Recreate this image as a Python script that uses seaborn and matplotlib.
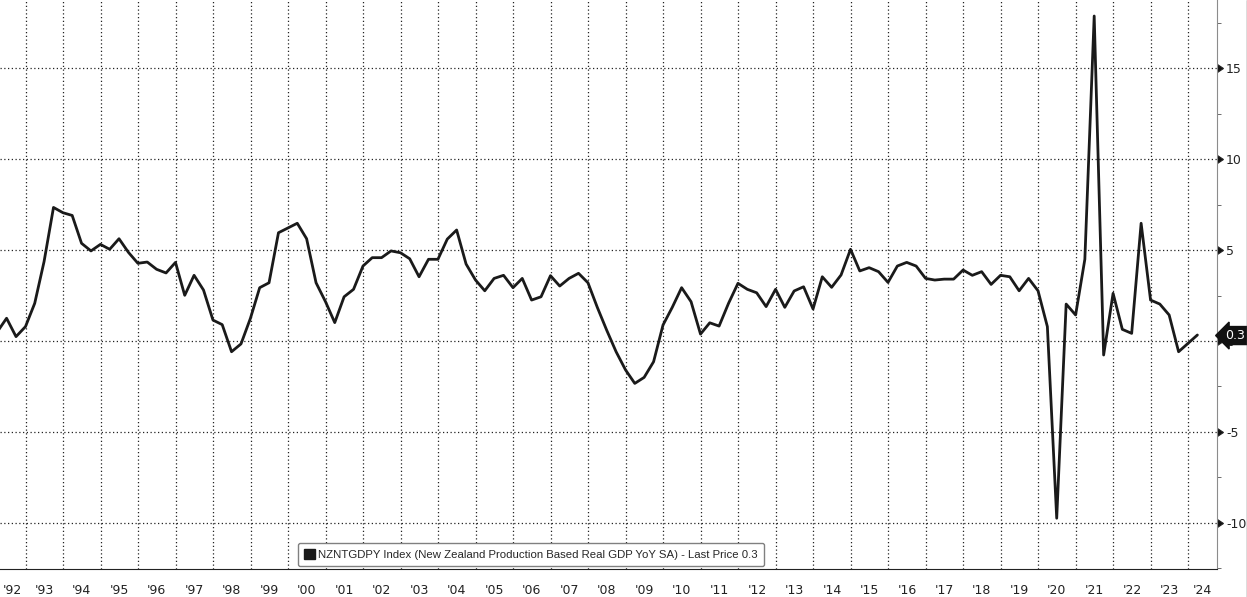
import numpy as np
import pandas as pd
import matplotlib.pyplot as plt
import matplotlib.dates as mdates
import matplotlib.markers as mmarkers
from matplotlib.lines import Line2D
from matplotlib.patches import Patch
from matplotlib.ticker import MultipleLocator, NullFormatter
import seaborn as sns

# ---------------------------------------------------------------------------
# DATOS (variación anual trimestral)
# ---------------------------------------------------------------------------
PRIMER_TRIMESTRE = '1992Q1'
PIB_YOY = [
    0.5, 1.25, 0.24, 0.79,      # 1992
    2.07, 4.36, 7.34, 7.05,     # 1993
    6.9, 5.37, 4.95, 5.31,      # 1994
    5.04, 5.62, 4.87, 4.27,     # 1995
    4.34, 3.94, 3.74, 4.32,     # 1996
    2.51, 3.61, 2.80, 1.15,     # 1997
    0.90, -0.59, -0.16, 1.25,   # 1998
    2.93, 3.2, 5.95, 6.21,      # 1999
    6.47, 5.62, 3.2, 2.16,      # 2000
    1.01, 2.43, 2.84, 4.12,     # 2001
    4.58, 4.58, 4.95, 4.85,     # 2002
    4.52, 3.53, 4.49, 4.49,     # 2003
    5.6, 6.1, 4.23, 3.35,       # 2004
    2.76, 3.44, 3.61, 2.93,     # 2005
    3.44, 2.25, 2.43, 3.59,     # 2006
    3.02, 3.44, 3.72, 3.2,      # 2007
    1.85, 0.6, -0.59, -1.59,    # 2008
    -2.33, -2.0, -1.14, 0.88,   # 2009
    1.85, 2.93, 2.16, 0.38,     # 2010
    1.0, 0.82, 2.07, 3.17,      # 2011
    2.84, 2.65, 1.89, 2.84,     # 2012
    1.85, 2.75, 2.98, 1.76,     # 2013
    3.53, 2.95, 3.63, 5.04,     # 2014
    3.85, 4.03, 3.81, 3.22,     # 2015
    4.12, 4.32, 4.12, 3.44,     # 2016
    3.35, 3.40, 3.40, 3.9,      # 2017
    3.61, 3.81, 3.11, 3.61,     # 2018
    3.53, 2.76, 3.44, 2.76,     # 2019
    0.79, -9.74, 2.03, 1.43,    # 2020
    4.49, 17.86, -0.77, 2.62,   # 2021
    0.64, 0.42, 6.47, 2.25,     # 2022
    2.03, 1.43, -0.59, -0.13,   # 2023
    0.33,                       # 2024
]
Y_TICKS = [-10, -5, 0, 5, 10, 15]
ULTIMO_PRECIO = 0.3
ETIQUETA = ('NZNTGDPY Index (New Zealand Production Based Real GDP YoY SA)'
            ' - Last Price 0.3')

X_MIN = pd.Timestamp('1992-04-27')
X_MAX = pd.Timestamp('2024-10-08')

# ---------------------------------------------------------------------------
fechas = (pd.period_range(PRIMER_TRIMESTRE, periods=len(PIB_YOY), freq='Q')
          .to_timestamp(how='end').normalize())
df = pd.DataFrame({'Fecha': fechas, 'YoY': PIB_YOY})

sns.set_style('white')
plt.rcParams['font.family'] = ['DejaVu Sans']

W, H = 1247, 597
fig = plt.figure(figsize=(W / 100, H / 100), dpi=100)
ax = fig.add_axes([0, (H - 569) / H, 1217 / W, 569 / H])

sns.lineplot(data=df, x='Fecha', y='YoY', color='#1a1a1a', linewidth=2.0,
             ax=ax, legend=False)

ax.set_xlim(X_MIN, X_MAX)
ax.set_ylim(-12.53, 18.74)
ax.set_xlabel('')
ax.set_ylabel('')

# eje Y a la derecha
ax.yaxis.tick_right()
ax.set_yticks(Y_TICKS)
ax.set_yticklabels([str(v) for v in Y_TICKS])
ax.yaxis.set_minor_locator(MultipleLocator(2.5))
ax.tick_params(axis='y', which='major', labelsize=9, pad=3, colors='#222222')
ax.tick_params(axis='y', which='minor', length=3, color='#555555', right=True)
for t in ax.yaxis.get_major_ticks():
    t.tick2line.set_marker(mmarkers.CARETRIGHTBASE)
    t.tick2line.set_markersize(6)
    t.tick2line.set_color('#111111')

# eje X: separadores de año, marcas trimestrales
ax.xaxis.set_major_locator(mdates.YearLocator(1))
ax.xaxis.set_major_formatter(NullFormatter())
ax.xaxis.set_minor_locator(mdates.MonthLocator(bymonth=[4, 7, 10]))
ax.tick_params(axis='x', which='major', length=20, width=1, color='#8c8c8c')
ax.tick_params(axis='x', which='minor', length=3, width=1, color='#555555')

x0, x1 = mdates.date2num(X_MIN), mdates.date2num(X_MAX)
for anio in range(1992, 2025):
    a = max(mdates.date2num(pd.Timestamp(f'{anio}-01-01')), x0)
    b = min(mdates.date2num(pd.Timestamp(f'{anio + 1}-01-01')), x1)
    ax.text((a + b) / 2, -0.038, f"'{anio % 100:02d}", ha='center', va='center',
            fontsize=9, color='#222222', transform=ax.get_xaxis_transform(),
            clip_on=False)

ax.grid(True, which='major', axis='both', color='#222222',
        linestyle=(0, (1, 2)), linewidth=0.9)

for lado in ['left', 'top']:
    ax.spines[lado].set_visible(False)
ax.spines['right'].set_color('#8c8c8c')
ax.spines['bottom'].set_color('#222222')

# leyenda estilo terminal
mano = Patch(facecolor='#1a1a1a', edgecolor='#1a1a1a')
leg = ax.legend([mano], [ETIQUETA], loc='lower left',
                bbox_to_anchor=(298 / 1217, 3 / 569), borderaxespad=0,
                prop={'family': 'Liberation Sans', 'size': 8.2},
                handlelength=0.95, handleheight=0.95, handletextpad=0.3,
                borderpad=0.55, frameon=True, framealpha=1, fancybox=True)
leg.get_frame().set_edgecolor('#808080')

# etiqueta del último valor
ax.annotate(f'{ULTIMO_PRECIO}', xy=(1.0, ULTIMO_PRECIO),
            xycoords=('axes fraction', 'data'), xytext=(6, 0),
            textcoords='offset points', ha='left', va='center',
            fontsize=9, color='white', annotation_clip=False, zorder=10,
            bbox=dict(boxstyle='larrow,pad=0.2', fc='#111111', ec='#111111'))

# borde derecho de la ventana
fig.add_artist(Line2D([1 - 0.5 / W, 1 - 0.5 / W], [0, 1], color='#555555',
                      linewidth=1, transform=fig.transFigure))

fig.savefig('out.png', dpi=100)
